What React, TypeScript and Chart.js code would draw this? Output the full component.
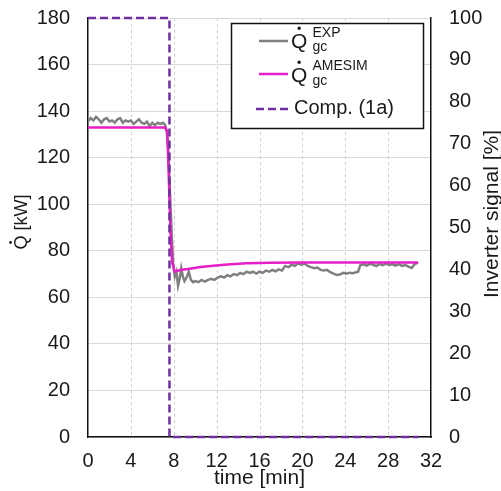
import React, { useEffect, useRef } from 'react';
import { Chart, registerables } from 'chart.js';
Chart.register(...registerables);

const expTime = [0, 0.25, 0.5, 0.75, 1, 1.25, 1.5, 1.75, 2, 2.25, 2.5, 2.75, 3, 3.25, 3.5, 3.75, 4, 4.25, 4.5, 4.75, 5, 5.25, 5.5, 5.75, 6, 6.25, 6.5, 6.75, 7, 7.2,
  7.35, 7.5, 7.65, 7.8, 7.95, 8.1, 8.25, 8.4, 8.55, 8.7, 8.85, 9, 9.2, 9.4, 9.6, 9.8, 10, 10.3, 10.6, 10.9, 11.2, 11.5, 11.8, 12.1, 12.4, 12.7, 13, 13.3, 13.6, 13.9,
  14.2, 14.5, 14.8, 15.1, 15.4, 15.7, 16, 16.3, 16.6, 16.9, 17.2, 17.5, 17.8, 18.1, 18.4, 18.7, 19, 19.3, 19.6, 19.9, 20.2, 20.5, 20.8, 21.1, 21.4, 21.7, 22, 22.3,
  22.6, 22.9, 23.2, 23.5, 23.8, 24.1, 24.4, 24.7, 25, 25.2, 25.4, 25.7, 26, 26.3, 26.6, 26.9, 27.2, 27.5, 27.8, 28.1, 28.4, 28.7, 29, 29.3, 29.6, 29.9, 30.2, 30.5, 30.8];
const expQ = [135.5, 137, 136, 137.5, 136.5, 135, 136.5, 137, 135.5, 136, 135, 136.5, 137, 135, 136, 135.5, 136, 134.5, 135.5, 136.5, 135, 134.5, 135.5, 133.5, 135, 134, 135, 134.5, 135, 134,
  131, 122, 105, 88, 74, 69, 71, 65, 68, 72.5, 69, 67, 68.5, 71, 67.5, 66.5, 67, 66.5, 67.5, 66.8, 67.5, 68, 67.5, 68.5, 69, 68.5, 69.5, 69, 70, 69.5,
  70.5, 70, 71, 70.5, 71, 70.2, 71, 70.5, 71.5, 71, 71.8, 71.2, 72, 71.5, 73.5, 73, 74, 73.5, 74.5, 74, 74.5, 73.5, 73, 72.5, 72.8, 71.8, 71.5, 71.8,
  70.8, 70.2, 69.6, 69.8, 70.5, 70.2, 70.6, 70.4, 70.8, 71, 73.8, 74.2, 73.6, 74.4, 74, 73.4, 74.3, 73.8, 74.5, 73.9, 74.2, 73.6, 74.3, 73.5, 73.9, 73.2, 72.6, 74.4, 74.8];

const simTime = [0, 7.2, 7.4, 7.55, 7.7, 7.85, 8.1, 8.6, 9.5, 10.5, 11.7, 13, 14.8, 17, 20, 25, 30.8];
const simQ = [133, 133, 131, 110, 88, 75, 71, 71.7, 72.3, 73, 73.6, 74.1, 74.6, 74.9, 75, 75, 75];

const compTime = [0, 7.6, 7.6, 30.8];
const compSignal = [100, 100, 0, 0];

const xGridValues = [4, 8, 12, 16, 20, 24, 28];
const legendLabels = ['EXP', 'AMESIM', 'Comp. (1a)'];
const xTitle = 'time [min]';
const yTitle = ' [kW]';
const y1Title = 'Inverter signal [%]';

const FONT = '"Liberation Sans", Arial, sans-serif';
const GRAY = '#808080';
const MAGENTA = '#e61ec8';
const PURPLE = '#7030a0';
const TEXT = '#1a1a1a';

function zip(t: number[], v: number[]) {
  return t.map((x, i) => ({ x, y: v[i] }));
}

function drawQ(ctx: CanvasRenderingContext2D, x: number, y: number, size: number) {
  ctx.font = `${size}px ${FONT}`;
  ctx.textAlign = 'left';
  ctx.textBaseline = 'alphabetic';
  ctx.fillText('Q', x, y);
  const w = ctx.measureText('Q').width;
  ctx.beginPath();
  ctx.arc(x + w * 0.5, y - size * 0.716 - size * 0.2, size * 0.08, 0, Math.PI * 2);
  ctx.fill();
  return w;
}

const dashedGrid = {
  id: 'dashedGrid',
  beforeDatasetsDraw(chart: any) {
    const ctx: CanvasRenderingContext2D = chart.ctx;
    const area = chart.chartArea;
    const xs = chart.scales.x;
    ctx.save();
    ctx.strokeStyle = '#cfcfcf';
    ctx.lineWidth = 1;
    ctx.setLineDash([3, 3]);
    xGridValues.forEach((v) => {
      const px = Math.round(xs.getPixelForValue(v)) + 0.5;
      ctx.beginPath();
      ctx.moveTo(px, area.top);
      ctx.lineTo(px, area.bottom);
      ctx.stroke();
    });
    ctx.restore();
  },
};

const overlay = {
  id: 'overlay',
  afterDraw(chart: any) {
    const ctx: CanvasRenderingContext2D = chart.ctx;
    const area = chart.chartArea;
    ctx.save();
    ctx.fillStyle = TEXT;
    // x title
    ctx.font = `21px ${FONT}`;
    ctx.textAlign = 'center';
    ctx.textBaseline = 'alphabetic';
    ctx.fillText(xTitle, (area.left + area.right) / 2, 484);
    // left title
    ctx.save();
    ctx.translate(27, 222);
    ctx.rotate(-Math.PI / 2);
    ctx.font = `18px ${FONT}`;
    const qw = ctx.measureText('Q').width;
    const tw = ctx.measureText(yTitle).width;
    const start = -(qw + tw) / 2;
    drawQ(ctx, start, 0, 18);
    ctx.font = `18px ${FONT}`;
    ctx.textAlign = 'left';
    ctx.fillText(yTitle, start + qw, 0);
    ctx.restore();
    // right title
    ctx.save();
    ctx.translate(498, 214);
    ctx.rotate(-Math.PI / 2);
    ctx.font = `21px ${FONT}`;
    ctx.textAlign = 'center';
    ctx.fillText(y1Title, 0, 0);
    ctx.restore();

    // legend
    ctx.fillStyle = '#ffffff';
    ctx.fillRect(231, 23, 192, 105);
    ctx.strokeStyle = '#111';
    ctx.lineWidth = 1.5;
    ctx.strokeRect(231.5, 23.5, 192, 105);
    ctx.lineWidth = 2.5;
    ctx.strokeStyle = GRAY;
    ctx.beginPath(); ctx.moveTo(259, 41); ctx.lineTo(288, 41); ctx.stroke();
    ctx.strokeStyle = MAGENTA;
    ctx.beginPath(); ctx.moveTo(259, 74); ctx.lineTo(288, 74); ctx.stroke();
    ctx.strokeStyle = PURPLE;
    ctx.setLineDash([8, 4]);
    ctx.beginPath(); ctx.moveTo(256, 109); ctx.lineTo(289, 109); ctx.stroke();
    ctx.setLineDash([]);
    ctx.fillStyle = TEXT;
    drawQ(ctx, 291, 47.5, 21);
    ctx.font = `14px ${FONT}`;
    ctx.fillText(legendLabels[0], 312.5, 36.5);
    ctx.fillText('gc', 312.5, 50.5);
    drawQ(ctx, 291, 81.5, 21);
    ctx.font = `14px ${FONT}`;
    ctx.fillText(legendLabels[1], 312.5, 69.5);
    ctx.fillText('gc', 312.5, 84.5);
    ctx.font = `20px ${FONT}`;
    ctx.fillText(legendLabels[2], 294, 114);
    ctx.restore();
  },
};

export default function App() {
  const ref = useRef<HTMLCanvasElement>(null);
  useEffect(() => {
    if (!ref.current) return;
    const chart = new Chart(ref.current, {
      type: 'line',
      data: {
        datasets: [
          {
            label: legendLabels[2],
            data: zip(compTime, compSignal),
            yAxisID: 'y1',
            borderColor: PURPLE,
            borderWidth: 2.5,
            borderDash: [8, 4],
            pointRadius: 0,
            tension: 0,
            clip: false as any,
          },
          {
            label: legendLabels[1],
            data: zip(simTime, simQ),
            yAxisID: 'y',
            borderColor: MAGENTA,
            borderWidth: 2.5,
            pointRadius: 0,
            tension: 0,
          },
          {
            label: legendLabels[0],
            data: zip(expTime, expQ),
            yAxisID: 'y',
            borderColor: GRAY,
            borderWidth: 2.5,
            pointRadius: 0,
            tension: 0,
          },
        ],
      },
      options: {
        animation: false,
        responsive: false,
        events: [],
        layout: { padding: { top: 18, right: 0, left: 0, bottom: 0 } },
        plugins: { legend: { display: false }, tooltip: { enabled: false } },
        scales: {
          x: {
            type: 'linear',
            min: 0,
            max: 32,
            ticks: { stepSize: 4, padding: 12, color: TEXT, font: { family: FONT, size: 20 } },
            grid: { display: false, drawTicks: false },
            border: { color: '#111', width: 1.5 },
            afterFit: (s: any) => { s.height = 54; },
          },
          y: {
            type: 'linear',
            position: 'left',
            min: 0,
            max: 180,
            ticks: { stepSize: 20, padding: 18, color: TEXT, font: { family: FONT, size: 20 } },
            grid: { color: '#d9d9d9', lineWidth: 1, drawTicks: false },
            border: { color: '#111', width: 1.5 },
            afterFit: (s: any) => { s.width = 88; s.paddingTop = 0; s.paddingBottom = 0; },
          },
          y1: {
            type: 'linear',
            position: 'right',
            min: 0,
            max: 100,
            ticks: { stepSize: 10, padding: 18, color: TEXT, font: { family: FONT, size: 20 } },
            grid: { display: false, drawTicks: false },
            border: { color: '#111', width: 1.5 },
            afterFit: (s: any) => { s.width = 70; s.paddingTop = 0; s.paddingBottom = 0; },
          },
        },
      } as any,
      plugins: [dashedGrid, overlay],
    });
    return () => chart.destroy();
  }, []);
  return (
    <div style={{ position: 'fixed', left: 0, top: 0, width: 501, height: 491, background: '#fff' }}>
      <canvas ref={ref} width={501} height={491} style={{ display: 'block' }} />
    </div>
  );
}
